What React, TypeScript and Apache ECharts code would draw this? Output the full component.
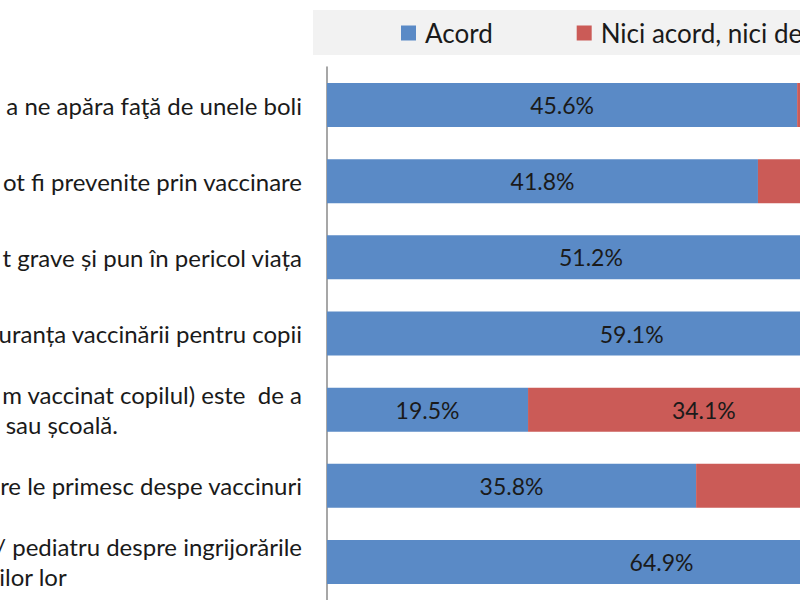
import React, { useEffect, useRef } from "react";
import * as echarts from "echarts";

const categories = [
  "a ne apăra faţă de unele boli",
  "ot fi prevenite prin vaccinare",
  "t grave și pun în pericol viața",
  "uranța vaccinării pentru copii",
  "m vaccinat copilul) este  de a\nsau școală.",
  "re le primesc despe vaccinuri",
  "/ pediatru despre ingrijorările\nilor lor",
];

const seriesNames = ["Acord", "Nici acord, nici dezacord", "Dezacord"];

const acord = [45.6, 41.8, 51.2, 59.1, 19.5, 35.8, 64.9];
const niciAcord = [24.0, 30.5, 28.6, 23.2, 34.1, 33.7, 20.8];
const dezacord = [30.4, 27.7, 20.2, 17.7, 46.4, 30.5, 14.3];

const BLUE = "#5a8ac6";
const RED = "#cb5b57";
const GREEN = "#9bbb59";
const FONT = "Lato";

export default function App() {
  const ref = useRef<HTMLDivElement>(null);

  useEffect(() => {
    if (!ref.current) return;
    const chart = echarts.init(ref.current, null, { renderer: "svg" });
    const label = {
      show: true,
      position: "inside",
      fontFamily: FONT,
      fontSize: 23,
      color: "#1a1a1a",
      formatter: (p: any) => Number(p.value).toFixed(1) + "%",
    };
    chart.setOption({
      animation: false,
      backgroundColor: "#ffffff",
      legend: {
        data: seriesNames,
        left: 313,
        top: 10,
        padding: [9, 300, 8, 88],
        backgroundColor: "#f2f2f2",
        icon: "rect",
        itemWidth: 15,
        itemHeight: 15,
        itemGap: 84,
        textStyle: {
          fontFamily: FONT,
          fontSize: 26,
          color: "#1a1a1a",
          lineHeight: 28,
          padding: [0, 0, 0, 4],
        },
      },
      grid: {
        left: 327,
        top: 67,
        width: 1031,
        height: 533,
        containLabel: false,
        outerBoundsMode: "none",
      },
      xAxis: {
        type: "value",
        min: 0,
        max: 100,
        show: false,
      },
      yAxis: {
        type: "category",
        data: categories,
        inverse: true,
        axisLine: { show: true, lineStyle: { color: "#8a8a8a", width: 1.5 } },
        axisTick: { show: false },
        splitLine: { show: false },
        axisLabel: {
          margin: 25,
          formatter: (v: string) => {
            const parts = v.split("\n");
            if (parts.length > 1) return `{a|${parts[0]}}\n{b|${parts[1]}}`;
            return `{a|${parts[0]}}`;
          },
          rich: {
            a: { fontFamily: FONT, fontSize: 24, color: "#1a1a1a", lineHeight: 30 },
            b: {
              fontFamily: FONT,
              fontSize: 24,
              color: "#1a1a1a",
              lineHeight: 30,
              align: "left",
              padding: [0, 0, 0, 4],
            },
          },
        },
      },
      series: [
        { name: seriesNames[0], type: "bar", stack: "t", data: acord, barWidth: 44, itemStyle: { color: BLUE }, label },
        { name: seriesNames[1], type: "bar", stack: "t", data: niciAcord, barWidth: 44, itemStyle: { color: RED }, label },
        { name: seriesNames[2], type: "bar", stack: "t", data: dezacord, barWidth: 44, itemStyle: { color: GREEN }, label },
      ],
    });
    return () => chart.dispose();
  }, []);

  return (
    <div
      style={{
        position: "fixed",
        left: 0,
        top: 0,
        width: 800,
        height: 600,
        overflow: "hidden",
        background: "#fff",
      }}
    >
      <div ref={ref} style={{ width: 1500, height: 700 }} />
    </div>
  );
}
